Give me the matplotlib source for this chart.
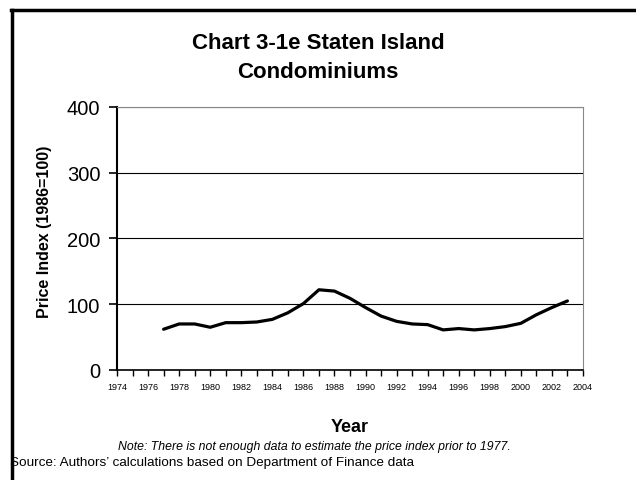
import matplotlib
matplotlib.use('Agg')
import matplotlib.pyplot as plt
from matplotlib.lines import Line2D
from matplotlib.ticker import MultipleLocator

plt.rcParams['font.family'] = ['Liberation Sans', 'DejaVu Sans']

# Price index (1986=100)
years = [1977, 1978, 1979, 1980, 1981, 1982, 1983, 1984, 1985, 1986, 1987,
         1988, 1989, 1990, 1991, 1992, 1993, 1994, 1995, 1996, 1997, 1998,
         1999, 2000, 2001, 2002, 2003]
index = [62, 70, 70, 65, 72, 72, 73, 77, 87, 101, 122,
         120, 109, 95, 82, 74, 70, 69, 61, 63, 61, 63,
         66, 71, 84, 95, 105]

title = 'Chart 3-1e Staten Island\nCondominiums'
note = 'Note: There is not enough data to estimate the price index prior to 1977.'
source = 'Source: Authors\u2019 calculations based on Department of Finance data'

fig = plt.figure(figsize=(6.36, 4.81), dpi=100)
ax = fig.add_axes([0.184, 0.2287, 0.7326, 0.5468])

ax.plot(years, index, color='black', linewidth=2.3, solid_joinstyle='round',
        solid_capstyle='round')

ax.set_xlim(1974, 2004)
ax.set_ylim(0, 400)
ax.set_yticks([0, 100, 200, 300, 400])
ax.xaxis.set_major_locator(MultipleLocator(2))
ax.xaxis.set_minor_locator(MultipleLocator(1))
ax.tick_params(axis='y', labelsize=14.5, length=6, width=1.2, direction='out', pad=6)
ax.tick_params(axis='x', which='major', labelsize=6.5, length=4, width=1, pad=5)
ax.tick_params(axis='x', which='minor', length=4, width=1)

ax.grid(axis='y', color='black', linewidth=0.8)
ax.set_axisbelow(True)
ax.spines['left'].set_linewidth(1.5)
ax.spines['bottom'].set_linewidth(1.2)
ax.spines['top'].set_color('#888888')
ax.spines['right'].set_color('#888888')

ax.set_ylabel('Price Index (1986=100)', fontsize=11.5, fontweight='bold', labelpad=12)
ax.yaxis.set_label_coords(-0.14, 0.53)
ax.set_xlabel('Year', fontsize=13, fontweight='bold', labelpad=19)

fig.text(0.5, 0.879, title, ha='center', va='center', fontsize=16,
         fontweight='bold', linespacing=1.5)
fig.text(0.495, 0.071, note, ha='center', va='center', fontsize=8.8, style='italic')
fig.text(0.015, 0.038, source, ha='left', va='center', fontsize=9.7)

# outer frame: left and top border
fig.add_artist(Line2D([0.019, 0.019], [0.0, 0.977], color='black', linewidth=2.5,
                      transform=fig.transFigure))
fig.add_artist(Line2D([0.017, 1.0], [0.977, 0.977], color='black', linewidth=2.5,
                      transform=fig.transFigure))

fig.savefig('out.png', dpi=100)
